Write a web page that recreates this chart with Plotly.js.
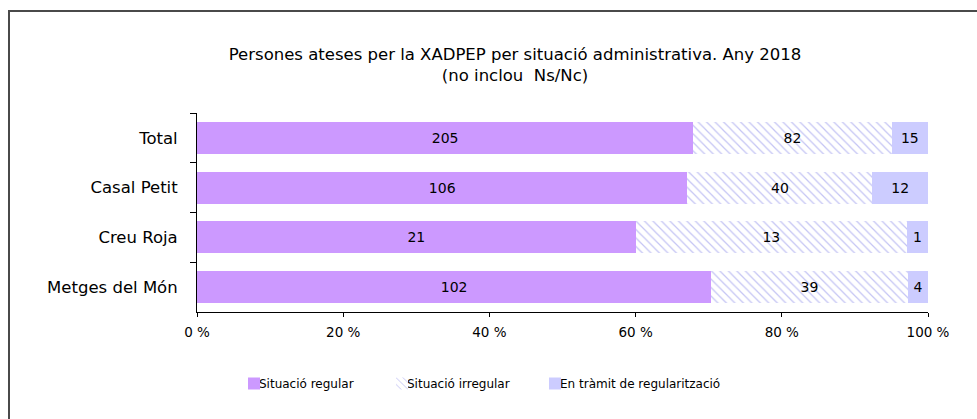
<!DOCTYPE html>
<html>
<head>
<meta charset="utf-8">
<script src="https://cdn.plot.ly/plotly-3.0.1.min.js"></script>
<style>
  html, body { margin: 0; padding: 0; background: #fff; }
  #wrap { position: relative; width: 977px; height: 419px; overflow: hidden; }
  #chart { width: 977px; height: 419px; }
  #frame { position: absolute; left: 8px; top: 10px; width: 1000px; height: 500px;
           border-left: 2px solid #4a4a4a; border-top: 2px solid #4a4a4a; pointer-events: none; }
  #chart .legendsymbols { transform: translate(15px, 0px); }
</style>
</head>
<body>
<div id="wrap">
  <div id="chart"></div>
  <div id="frame"></div>
</div>
<script>
const categories = ["Total", "Casal Petit", "Creu Roja", "Metges del Món"];
const regular = [205, 106, 21, 102];
const irregular = [82, 40, 13, 39];
const tramit = [15, 12, 1, 4];
const seriesNames = ["Situació regular", "Situació irregular", "En tràmit de regularització"];
const xTicks = [0, 20, 40, 60, 80, 100];

const FONT = '"DejaVu Sans", Verdana, sans-serif';

function barTrace(vals, name, marker, legendId) {
  return {
    type: 'bar', orientation: 'h',
    x: vals, y: categories, name: name, legend: legendId,
    text: vals.map(String), textposition: 'inside', insidetextanchor: 'middle',
    textangle: 0, constraintext: 'none',
    insidetextfont: { family: FONT, size: 14, color: '#000' },
    marker: marker, hoverinfo: 'skip'
  };
}

const data = [
  barTrace(regular, seriesNames[0], { color: '#CC99FF', line: { width: 0 } }, 'legend'),
  barTrace(irregular, seriesNames[1], {
    color: '#ffffff', line: { width: 0 },
    pattern: { shape: '\\', fgcolor: '#c4c4f4', bgcolor: '#ffffff', size: 6, solidity: 0.2 }
  }, 'legend2'),
  barTrace(tramit, seriesNames[2], { color: '#CCCCFF', line: { width: 0 } }, 'legend3')
];

function legendAt(xpx) {
  return {
    orientation: 'h', xref: 'container', yref: 'container',
    x: xpx / 977, xanchor: 'left', y: 1 - 369 / 419, yanchor: 'top',
    itemwidth: 30, bgcolor: 'rgba(0,0,0,0)',
    font: { family: FONT, size: 12, color: '#000' }
  };
}

const layout = {
  width: 977, height: 419,
  margin: { l: 197, r: 49, t: 113, b: 107 },
  paper_bgcolor: '#fff', plot_bgcolor: '#fff',
  font: { family: FONT, size: 12, color: '#000' },
  barmode: 'stack', barnorm: 'percent', bargap: 0.36,
  uniformtext: { minsize: 14, mode: 'show' },
  title: {
    text: 'Persones ateses per la XADPEP per situació administrativa. Any 2018<br>(no inclou  Ns/Nc)',
    font: { family: FONT, size: 16.5, color: '#000' },
    xref: 'container', x: 515 / 977, xanchor: 'center',
    yref: 'container', y: 1 - 60 / 419, yanchor: 'top'
  },
  xaxis: {
    range: [0, 100], tickvals: xTicks, ticktext: xTicks.map(v => v + ' %'),
    showgrid: false, zeroline: false, showline: true, linecolor: '#000', linewidth: 1,
    ticks: 'outside', ticklen: 4, tickcolor: '#000', ticklabelstandoff: 4,
    tickfont: { family: FONT, size: 13.5, color: '#000' }, fixedrange: true
  },
  yaxis: {
    autorange: 'reversed', type: 'category',
    showgrid: false, zeroline: false, showline: true, linecolor: '#000', linewidth: 1,
    ticks: 'outside', ticklen: 6, tickcolor: '#000', tickson: 'boundaries',
    ticklabelstandoff: 15,
    tickfont: { family: FONT, size: 16.5, color: '#000' }, fixedrange: true
  },
  showlegend: true,
  legend: legendAt(219),
  legend2: legendAt(367),
  legend3: legendAt(520)
};

Plotly.newPlot('chart', data, layout, { displayModeBar: false, staticPlot: true });
</script>
</body>
</html>
